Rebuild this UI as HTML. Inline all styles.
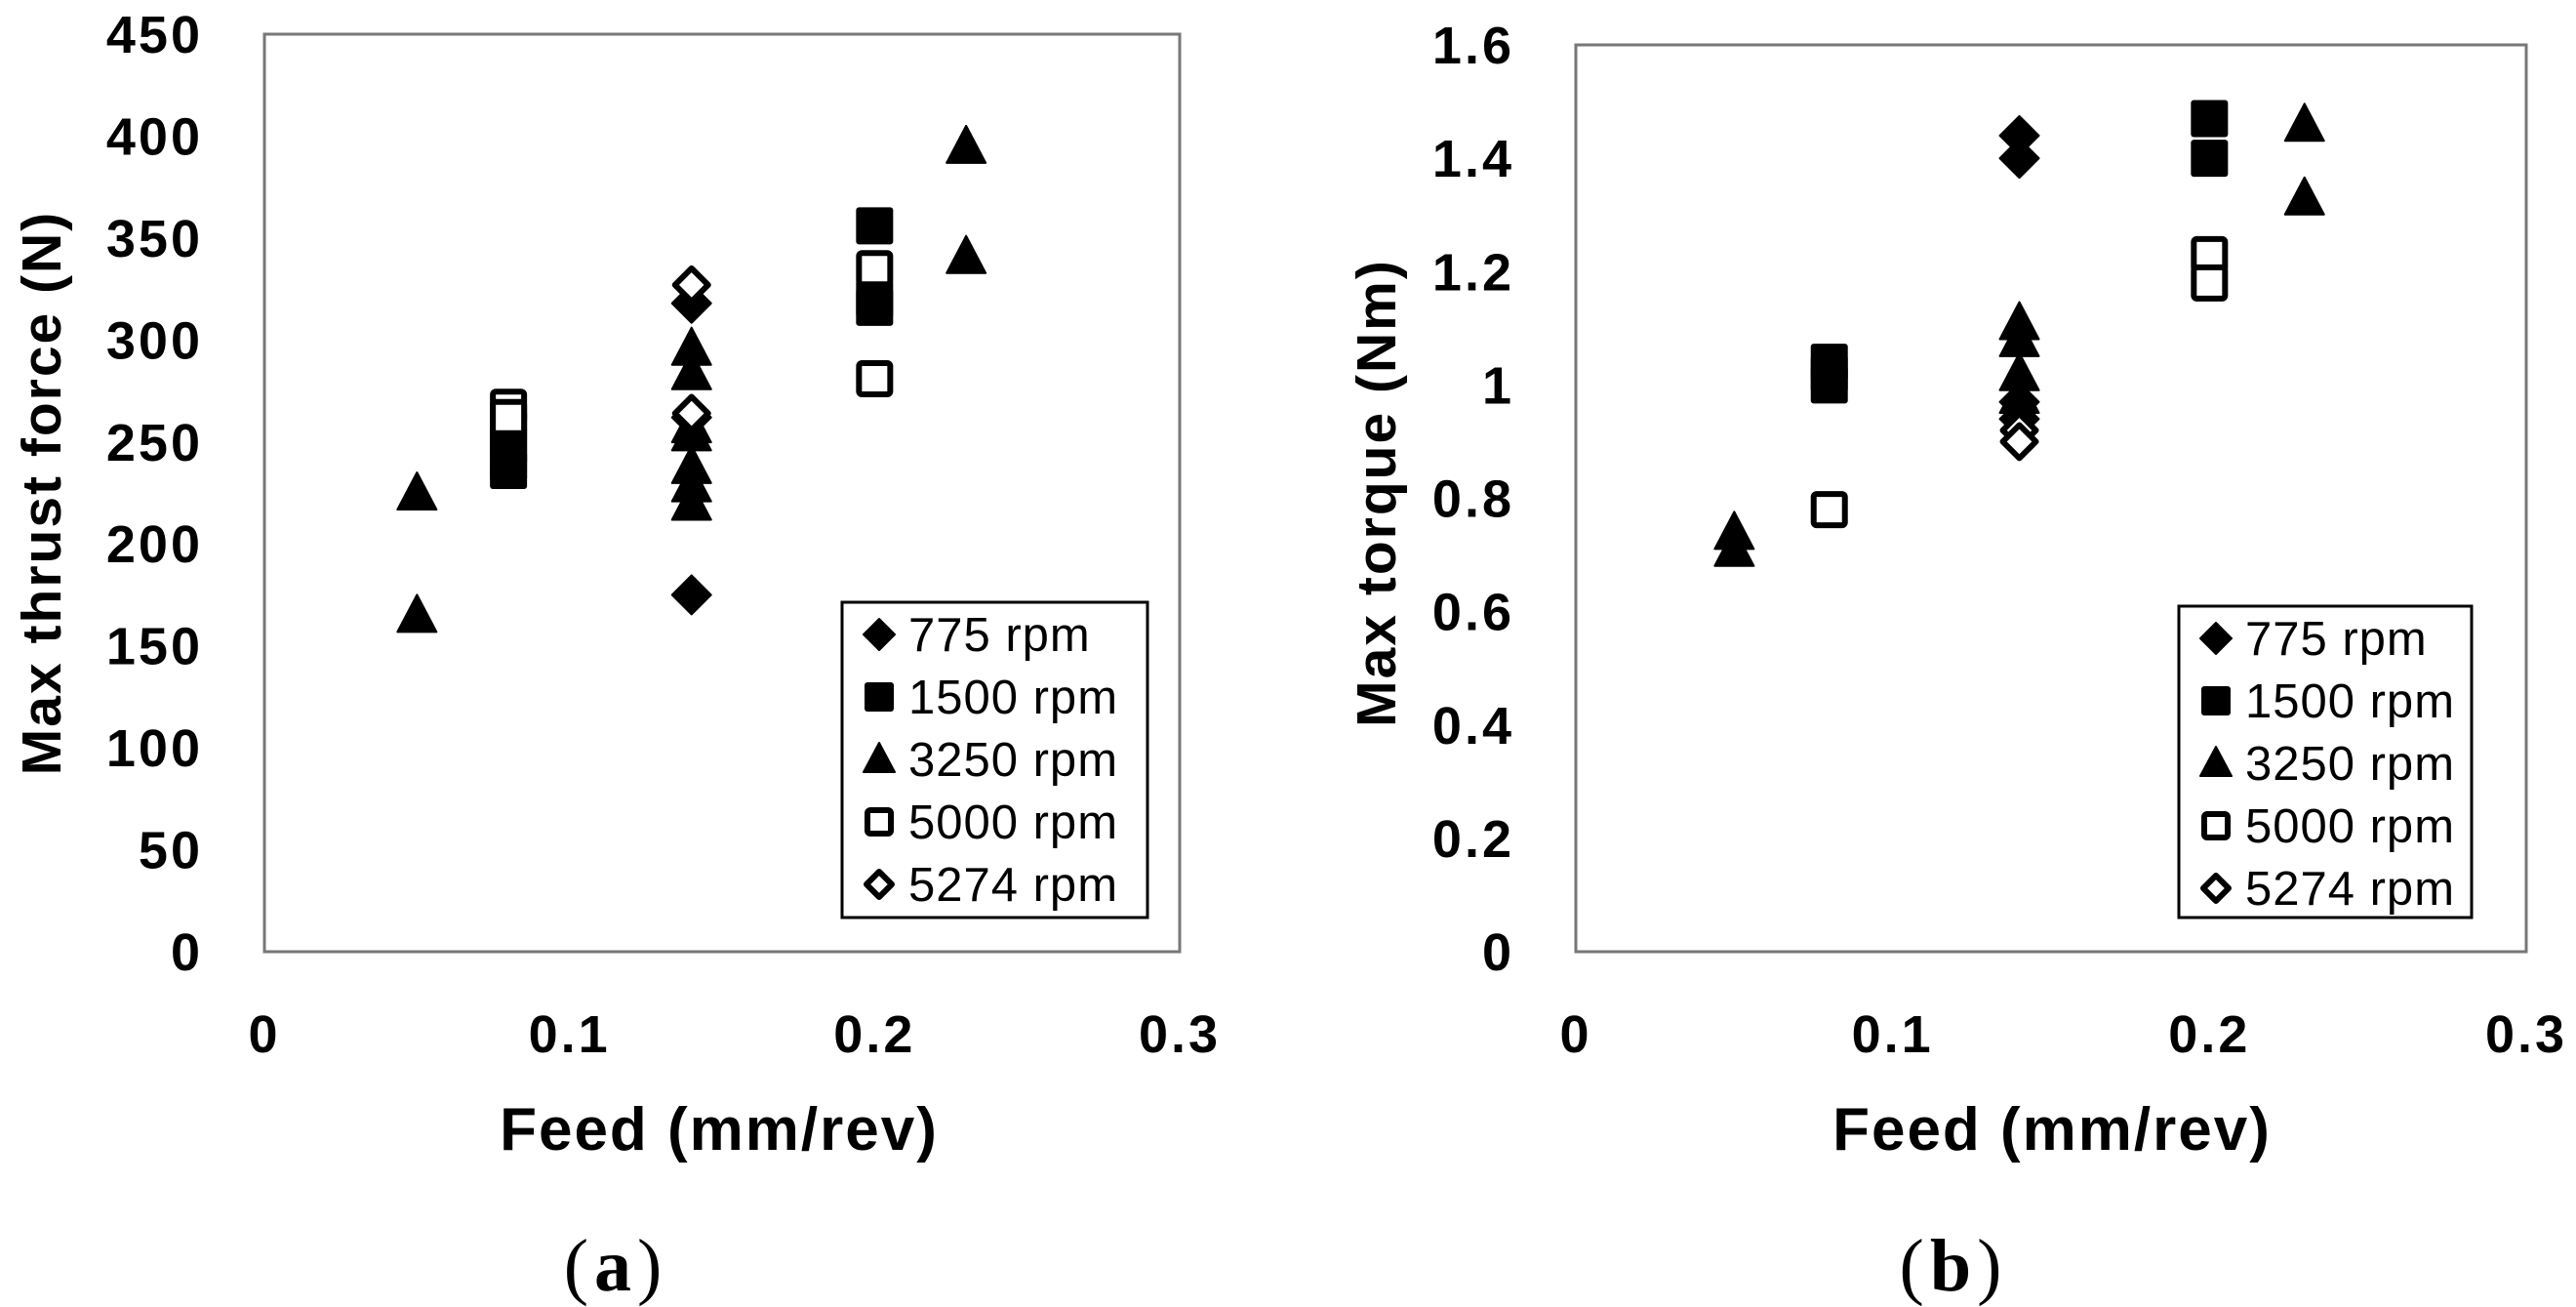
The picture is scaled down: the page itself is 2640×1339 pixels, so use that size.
<!DOCTYPE html>
<html><head><meta charset="utf-8"><style>
html,body{margin:0;padding:0;background:#fff;}
svg{display:block;}
text{font-family:"Liberation Sans",sans-serif;fill:#000;}
</style></head><body>
<svg id="fig" width="2640" height="1339" viewBox="0 0 2640 1339" xmlns="http://www.w3.org/2000/svg"></svg>
<script>
const NS="http://www.w3.org/2000/svg";
const seriesNames=["775 rpm","1500 rpm","3250 rpm","5000 rpm","5274 rpm"];
const seriesShapes=["diamond","square","triangle","osquare","odiamond"];
const xTicks=[0,0.1,0.2,0.3];
const thrustTicks=[0,50,100,150,200,250,300,350,400,450];
const torqueTicks=[0,0.2,0.4,0.6,0.8,1,1.2,1.4,1.6];
const torqueTickLabels=["0","0.2","0.4","0.6","0.8","1","1.2","1.4","1.6"];
// thrust (a): [feed, value] per series
const thrust775=[[0.14,318],[0.14,175],[0.14,262]];
const thrust1500=[[0.08,256],[0.08,248],[0.08,240],[0.08,236],[0.2,356],[0.2,320],[0.2,316]];
const thrust3250=[[0.05,225],[0.05,165],[0.14,296],[0.14,284],[0.14,258],[0.14,254],[0.14,238],[0.14,229],[0.14,220],[0.23,395],[0.23,341]];
const thrust5000=[[0.08,267],[0.08,262],[0.2,335],[0.2,281]];
const thrust5274=[[0.14,327],[0.14,264]];
// torque (b)
const torque775=[[0.14,1.44],[0.14,1.40],[0.14,0.97],[0.14,0.94]];
const torque1500=[[0.08,1.04],[0.08,1.02],[0.08,1.0],[0.2,1.47],[0.2,1.40]];
const torque3250=[[0.05,0.74],[0.05,0.71],[0.14,1.11],[0.14,1.08],[0.14,1.02],[0.14,0.98],[0.23,1.46],[0.23,1.33]];
const torque5000=[[0.08,0.78],[0.2,1.23],[0.2,1.18]];
const torque5274=[[0.14,0.92],[0.14,0.90]];

const svg=document.getElementById('fig');
function el(tag,attrs,parent){const e=document.createElementNS(NS,tag);for(const k in attrs)e.setAttribute(k,attrs[k]);(parent||svg).appendChild(e);return e;}
function marker(shape,cx,cy,s,parent){
  const h=s/2;let e;
  if(shape==="square"||shape==="osquare"){
    const open=shape==="osquare";const o=open?3:0;
    e=el('rect',{x:cx-h+o,y:cy-h+o,width:s-2*o,height:s-2*o,rx:3,fill:open?'#fff':'#000',stroke:'#000','stroke-width':open?6:0},parent);
  }else if(shape==="diamond"||shape==="odiamond"){
    const open=shape==="odiamond";const d=open?h-2:h+1;
    e=el('polygon',{points:`${cx},${cy-d} ${cx+d},${cy} ${cx},${cy+d} ${cx-d},${cy}`,fill:open?'#fff':'#000',stroke:'#000','stroke-width':open?6:2,'stroke-linejoin':'round'},parent);
  }else{
    e=el('polygon',{points:`${cx},${cy-h-2} ${cx+h+1},${cy+h-2} ${cx-h-1},${cy+h-2}`,fill:'#000',stroke:'#000','stroke-width':2,'stroke-linejoin':'round'},parent);
  }
  return e;
}
function chart(cfg){
  const g=el('g',{});
  
  
  const X=v=>cfg.x0+(v-xTicks[0])/(xTicks[xTicks.length-1]-xTicks[0])*(cfg.x1-cfg.x0);
  const ymax=cfg.yTicks[cfg.yTicks.length-1];
  const Y=v=>cfg.y1-v/ymax*(cfg.y1-cfg.y0);
  const frame=el('rect',{x:cfg.x0,y:cfg.y0,width:cfg.x1-cfg.x0,height:cfg.y1-cfg.y0,fill:'none',stroke:'#777','stroke-width':3},g);
  
  
  cfg.yTicks.forEach((t,i)=>{
    const tx=el('text',{x:cfg.yLabelX,y:Y(t)+19,'text-anchor':'end','font-size':54,'font-weight':'bold','letter-spacing':3},g);
    tx.textContent=cfg.yLabels[i];
    
    
  });
  xTicks.forEach(t=>{
    const tx=el('text',{x:X(t),y:1078,'text-anchor':'middle','font-size':54,'font-weight':'bold','letter-spacing':3},g);
    tx.textContent=String(t);
    
    
  });
  const yt=el('text',{x:0,y:0,transform:`translate(${cfg.yTitleX},${cfg.yTitleY}) rotate(-90)`,'text-anchor':'middle','font-size':57,'font-weight':'bold','letter-spacing':2},g);
  yt.textContent=cfg.yTitle;
  
  
  const xt=el('text',{x:cfg.xTitleX,y:1178,'text-anchor':'middle','font-size':62,'font-weight':'bold','letter-spacing':2},g);
  xt.textContent="Feed (mm/rev)";
  
  
  const pl=el('text',{x:cfg.panelX,y:1322,'text-anchor':'middle','font-size':76,'letter-spacing':6,style:'font-family:"Liberation Serif",serif'},g);
  pl.innerHTML='(<tspan font-weight="bold">'+cfg.panel+'</tspan>)';
  
  
  cfg.series.forEach((arr,si)=>{
    arr.forEach(p=>{
      const m=marker(seriesShapes[si],X(p[0]),Y(p[1]),38,g);
      
      
    });
  });
  const lg=el('g',{},g);
  
  
  el('rect',{x:cfg.lx0,y:cfg.ly0,width:cfg.lx1-cfg.lx0,height:cfg.ly1-cfg.ly0,fill:'#fff',stroke:'#000','stroke-width':3},lg);
  seriesNames.forEach((n,i)=>{
    const cy=cfg.ly0+33+i*64;
    const m=marker(seriesShapes[i],cfg.lx0+38,cy,30,lg);
    
    
    const t=el('text',{x:cfg.lx0+68,y:cy+17,'font-size':49,'letter-spacing':1},lg);
    t.textContent=n;
    
    
  });
}
chart({name:'thrust-chart',panel:'a',x0:271,x1:1209,y0:35,y1:975,yTicks:thrustTicks,yLabels:thrustTicks.map(String),
  yLabelX:208,yTitle:'Max thrust force (N)',yTitleX:62,yTitleY:505,xTitleX:737,panelX:631,
  series:[thrust775,thrust1500,thrust3250,thrust5000,thrust5274],lx0:863,lx1:1176,ly0:617,ly1:940});
chart({name:'torque-chart',panel:'b',x0:1615,x1:2589,y0:46,y1:975,yTicks:torqueTicks,yLabels:torqueTickLabels,
  yLabelX:1552,yTitle:'Max torque (Nm)',yTitleX:1430,yTitleY:505,xTitleX:2103,panelX:2002,
  series:[torque775,torque1500,torque3250,torque5000,torque5274],lx0:2233,lx1:2533,ly0:621,ly1:940});
</script>
</body></html>
